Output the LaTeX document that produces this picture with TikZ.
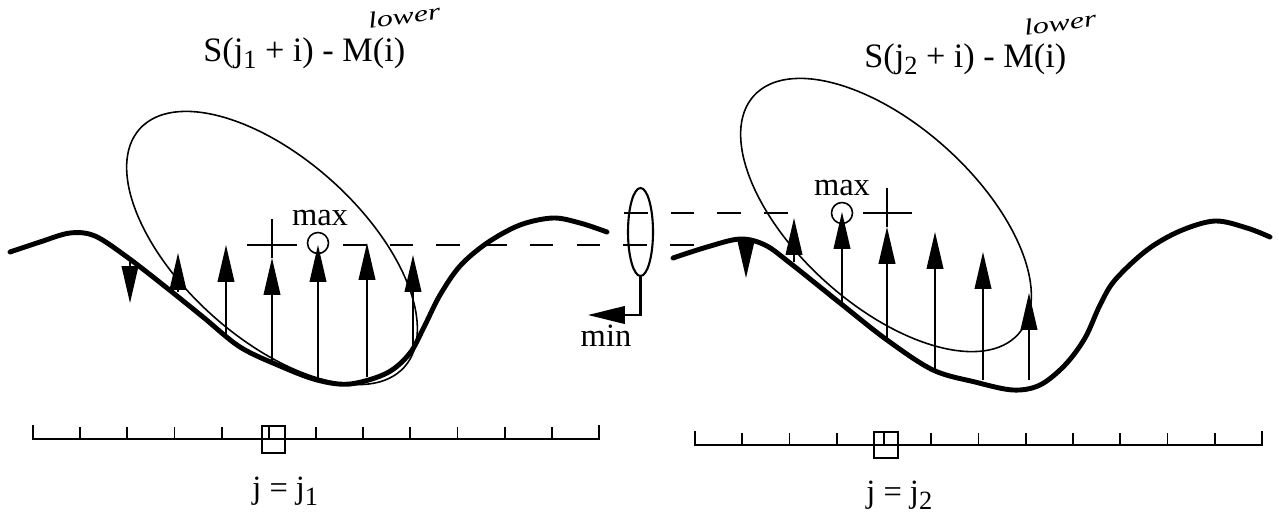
\documentclass[tikz,border=0pt]{standalone}
\usepackage{fontspec}
\setmainfont{Liberation Serif}
\usetikzlibrary{arrows.meta,shapes.geometric}
\newcommand\sbs[1]{\raisebox{-0.5ex}{\fontsize{15}{15}\selectfont #1}}
\begin{document}
\begin{tikzpicture}[x=0.02cm,y=-0.02cm,
  curve/.style={line width=2.8pt,line cap=round,line join=round},
  thinl/.style={line width=0.9pt},
  vec/.style={line width=0.9pt,-{Triangle[length=21pt,width=9.5pt]}},
  dsh/.style={line width=1.2pt,dash pattern=on 13.4pt off 13.2pt},
  ttl/.style={font=\fontsize{19.5}{22}\selectfont,inner sep=0pt},
  lbl/.style={font=\fontsize{18.5}{20}\selectfont,inner sep=0pt},
  hand/.style={font=\fontsize{13}{14}\itshape,inner sep=0pt,rotate=8,xscale=1.4},
  maxring/.style={draw,circle,line width=0.9pt,minimum size=0.42cm,inner sep=0pt},
  ruler/.style={line width=1pt},
]
\useasboundingbox (0,0) rectangle (1278,514);

% ---------- titles ----------
\node[ttl,anchor=base west] (t1) at (203,61) {S(j\sbs{1} + i) - M(i)};
\node[hand] (h1) at (404,16) {lower};
\node[ttl,anchor=base west] (t2) at (864,67) {S(j\sbs{2} + i) - M(i)};
\node[hand] (h2) at (1060,23) {lower};

% ---------- ellipses ----------
\draw[thinl,rotate around={-42:(272,248)}] (272,248) ellipse [x radius=178,y radius=90];
\draw[thinl,rotate around={-42:(886,215)}] (886,215) ellipse [x radius=178,y radius=90];

% ---------- curves ----------
\draw[curve] plot[smooth,tension=0.55] coordinates {(10,252) (40,242) (70,233) (95,236) (127,257) (167,288) (203,317) (240,347) (280,366) (317,380) (350,384) (387,373) (410,353) (425,325) (440,295) (460,266) (487,243) (520,225) (553,218) (580,223) (607,232)};
\draw[curve] plot[smooth,tension=0.55] coordinates {(673,258) (707,247) (740,239) (765,245) (790,263) (840,303) (887,340) (933,370) (975,382) (1013,390) (1040,385) (1065,365) (1085,338) (1100,305) (1115,280) (1147,250) (1180,231) (1215,221) (1247,228) (1270,237)};

% ---------- left vectors ----------
\draw[vec] (130,262) -- (130,303);
\draw[vec] (178,292) -- (178,253);
\draw[vec] (226,335) -- (226,245);
\draw[vec] (272,362) -- (272,258);
\draw[vec] (318,379) -- (318,245);
\draw[vec] (367,377) -- (367,243);
\draw[vec] (413,345) -- (413,255);
\draw[thinl] (272,219) -- (272,258);
\draw[thinl] (247,245) -- (297,245);
\node[maxring] (c1) at (318,243) {};
\node[lbl,anchor=base] (m1) at (320,225) {max};

% ---------- right vectors ----------
\draw[vec] (746,242) -- (746,278);
\draw[vec] (794,262) -- (794,218);
\draw[vec] (842,303) -- (842,212);
\draw[vec] (887,340) -- (887,227);
\draw[vec] (935,369) -- (935,232);
\draw[vec] (983,380) -- (983,252);
\draw[vec] (1029,380) -- (1029,293);
\draw[thinl] (887,188) -- (887,227);
\draw[thinl] (863,213) -- (912,213);
\node[maxring] (c2) at (842,213) {};
\node[lbl,anchor=base] (m2) at (842,195) {max};

% ---------- dashed lines ----------
\draw[dsh] (343,245) -- (700,245);
\draw[dsh] (624,213) -- (793,213);

% ---------- min selector ----------
\node[draw,ellipse,line width=1.2pt,minimum width=0.5cm,minimum height=1.76cm,inner sep=0pt] (sel) at (640.5,232) {};
\coordinate (mintip) at (588,315);
\draw[line width=1.2pt,-{Triangle[length=21pt,width=10pt]}] (sel.south) |- (mintip);
\node[lbl,anchor=base] (mn) at (606,346) {min};

% ---------- rulers ----------
\draw[ruler] (33,425) -- (33,439) -- (599,439) -- (599,425);
\foreach \k in {1,...,11} \draw[ruler] ({33+\k*47.17},439) -- ({33+\k*47.17},427);
\draw[ruler] (262,426) rectangle (285,453);
\node[lbl,anchor=base west] (j1) at (252,498) {j = j\sbs{1}};

\draw[ruler] (695,431) -- (695,445) -- (1262,445) -- (1262,431);
\foreach \k in {1,...,11} \draw[ruler] ({695+\k*47.25},445) -- ({695+\k*47.25},433);
\draw[ruler] (874,432) rectangle (898,458);
\node[lbl,anchor=base west] (j2) at (866,502) {j = j\sbs{2}};
\end{tikzpicture}
\end{document}
